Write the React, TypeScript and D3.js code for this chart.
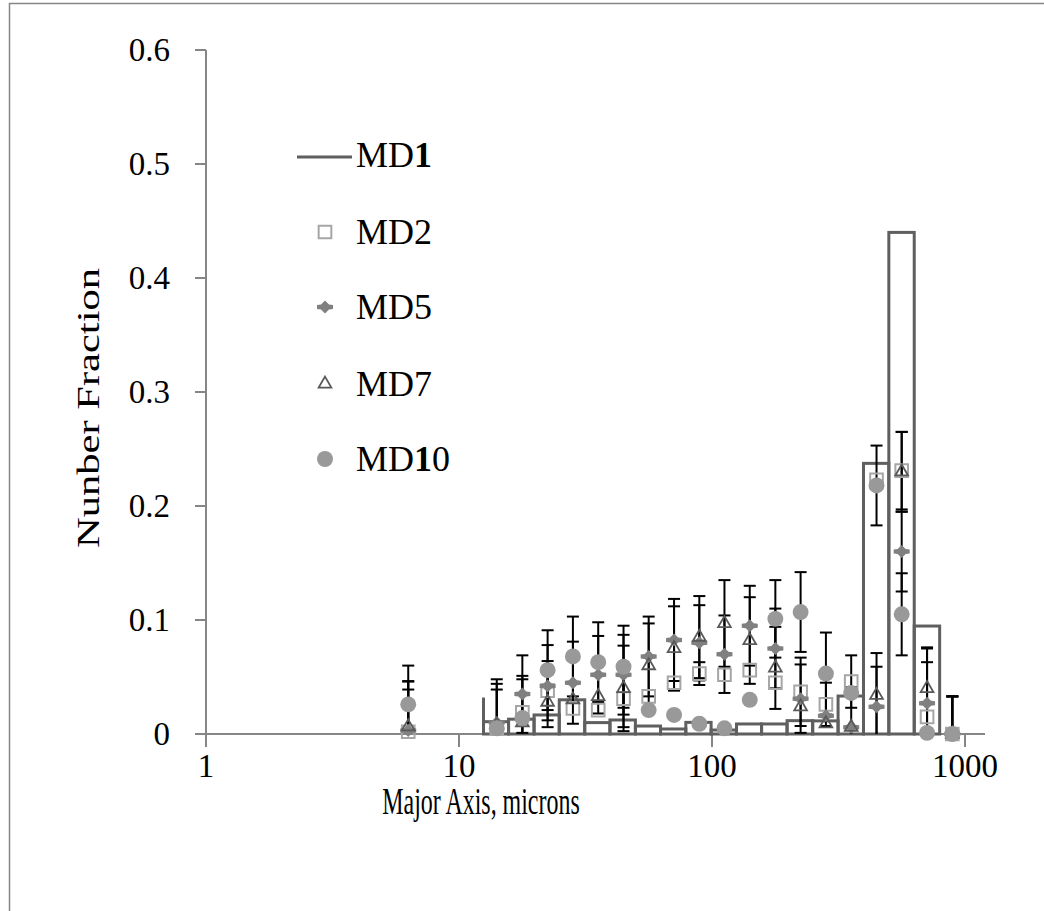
import React from 'react';
import * as d3 from 'd3';

// particle size (microns) where the markers sit
const sizes = [6.3, 14.1, 17.8, 22.4, 28.2, 35.5, 44.7, 56.2, 70.8, 89.1, 112, 141, 178, 224, 282, 355, 447, 562, 708, 891];

const md2 = [0.002, 0.005, 0.019, 0.038, 0.0225, 0.021, 0.031, 0.033, 0.045, 0.053, 0.052, 0.056, 0.045, 0.037, 0.026, 0.046, 0.223, 0.231, 0.015, 0];
const md2Err = [0.044, 0, 0.032, 0.026, 0, 0, 0.025, 0, 0, 0.01, 0, 0, 0, 0.03, 0.019, 0.023, 0, 0.034, 0.06, 0.033];

const md5 = [0.003, 0.01, 0.035, 0.042, 0.045, 0.052, 0.052, 0.068, 0.0825, 0.08, 0.07, 0.095, 0.075, 0.031, 0.016, 0.006, 0.024, 0.16, 0.027, 0];
const md5Err = [0.036, 0.038, 0.034, 0.036, 0.036, 0.034, 0.035, 0.035, 0.036, 0.033, 0.034, 0.035, 0.035, 0.03, 0, 0.035, 0.035, 0.035, 0.036, 0.033];

const md7 = [0.0064, 0.008, 0.01, 0.028, 0.03, 0.033, 0.04, 0.06, 0.075, 0.085, 0.097, 0.082, 0.058, 0.024, 0.009, 0.006, 0.034, 0.23, 0.04, 0];
const md7Err = [0.04, 0.036, 0, 0, 0, 0, 0.0375, 0.037, 0.037, 0.036, 0.038, 0.038, 0.036, 0, 0, 0, 0.037, 0.035, 0.036, 0.033];

const md10 = [0.026, 0.005, 0.014, 0.056, 0.068, 0.063, 0.059, 0.021, 0.0167, 0.009, 0.005, 0.03, 0.101, 0.107, 0.053, 0.036, 0.218, 0.105, 0.001, 0];
const md10Err = [0.034, 0.034, 0.034, 0.035, 0.035, 0.035, 0.036, 0, 0, 0, 0, 0, 0.034, 0.035, 0.036, 0, 0.035, 0.036, 0, 0.033];

// MD1 histogram
const binEdges = [12.5, 15.7, 19.8, 24.9, 31.4, 39.5, 49.8, 62.6, 78.8, 99.2, 125, 157, 198, 250, 315, 397, 500, 630, 794];
const md1 = [0.0108, 0.013, 0.0167, 0.03, 0.01, 0.0123, 0.007, 0.0044, 0.0102, 0.0035, 0.0088, 0.0088, 0.0117, 0.0115, 0.0333, 0.2374, 0.44, 0.0947];
const md1Spike = 0.032;

const yTicks = [0, 0.1, 0.2, 0.3, 0.4, 0.5, 0.6];
const xTicks = [1, 10, 100, 1000];

const x = d3.scaleLog().domain([1, 1000]).range([206, 965]);
const y = d3.scaleLinear().domain([0, 0.6]).range([734, 50]);

const serif = '"Liberation Serif", "Times New Roman", serif';

const squarePath = d3.symbol(d3.symbolSquare, 160)() as string;
const trianglePath = d3.symbol(d3.symbolTriangle, 70)() as string;
const circlePath = d3.symbol(d3.symbolCircle, 200)() as string;
const starPath = 'M0,-6.5L4,-2.5L8,-2L8,2L4,2.5L0,6.5L-4,2.5L-8,2L-8,-2L-4,-2.5Z';

const series = [
  { name: 'MD2', values: md2, errors: md2Err, path: squarePath, fill: 'none', stroke: '#a6a6a6', sw: 2 },
  { name: 'MD5', values: md5, errors: md5Err, path: starPath, fill: '#808080', stroke: 'none', sw: 0 },
  { name: 'MD7', values: md7, errors: md7Err, path: trianglePath, fill: 'none', stroke: '#595959', sw: 1.8 },
  { name: 'MD10', values: md10, errors: md10Err, path: circlePath, fill: '#999999', stroke: 'none', sw: 0 },
];

const legendY = [157, 232, 307, 384, 459];

export default function App() {
  const clampY = (v: number) => y(Math.max(0, Math.min(0.6, v)));
  return (
    <svg width={1044} height={911} style={{ position: 'absolute', left: 0, top: 0, background: '#fff' }} fontFamily={serif}>
      <rect x={9.5} y={3.5} width={1100} height={1000} fill="none" stroke="#868686" strokeWidth={1.5} />

      {/* axes */}
      <line x1={x(1)} x2={x(1)} y1={y(0.6)} y2={y(0)} stroke="#868686" strokeWidth={2} />
      <line x1={195} x2={x(1200)} y1={y(0)} y2={y(0)} stroke="#868686" strokeWidth={2} />
      {yTicks.map(t => (
        <g key={t}>
          <line x1={195} x2={x(1)} y1={y(t)} y2={y(t)} stroke="#868686" strokeWidth={2} />
          <text x={170} y={y(t) + 11} textAnchor="end" fontSize={33}>{t === 0 ? '0' : t.toFixed(1)}</text>
        </g>
      ))}
      {xTicks.map(t => (
        <g key={t}>
          <line x1={x(t)} x2={x(t)} y1={y(0)} y2={y(0) + 13} stroke="#868686" strokeWidth={2} />
          <text x={x(t)} y={777} textAnchor="middle" fontSize={33}>{t}</text>
        </g>
      ))}
      <text transform="translate(481,814) scale(0.63,1)" textAnchor="middle" fontSize={38}>Major Axis, microns</text>
      <text transform="translate(99,408) rotate(-90) scale(1.33,1)" textAnchor="middle" fontSize={32}>Nunber Fraction</text>

      {/* MD1 histogram */}
      <g fill="none" stroke="#5f5f5f" strokeWidth={3}>
        <line x1={x(binEdges[0])} x2={x(binEdges[0])} y1={y(0)} y2={y(md1Spike)} />
        {md1.map((v, i) => (
          <rect key={i} x={x(binEdges[i])} y={y(v)} width={x(binEdges[i + 1]) - x(binEdges[i])} height={y(0) - y(v)} />
        ))}
      </g>

      {/* error bars */}
      <g stroke="#000" strokeWidth={2}>
        {series.map(s => s.values.map((v, i) => {
          const e = s.errors[i];
          if (!e) return null;
          const cx = x(sizes[i]);
          const hi = clampY(v + e);
          const lo = clampY(v - e);
          return (
            <g key={s.name + i}>
              <line x1={cx} x2={cx} y1={hi} y2={lo} />
              <line x1={cx - 6} x2={cx + 6} y1={hi} y2={hi} />
              {v - e > 0 && <line x1={cx - 6} x2={cx + 6} y1={lo} y2={lo} />}
            </g>
          );
        }))}
      </g>

      {/* markers */}
      {series.map(s => (
        <g key={s.name} fill={s.fill} stroke={s.stroke} strokeWidth={s.sw}>
          {s.values.map((v, i) => (
            <path key={i} d={s.path} transform={`translate(${x(sizes[i])},${y(v)})`} />
          ))}
        </g>
      ))}

      {/* legend */}
      <line x1={297} x2={352} y1={legendY[0]} y2={legendY[0]} stroke="#5f5f5f" strokeWidth={3} />
      <text x={356} y={legendY[0] + 10} fontSize={36}>MD<tspan fontWeight="bold">1</tspan></text>
      {series.map((s, i) => (
        <g key={s.name}>
          <path d={s.path} transform={`translate(325,${legendY[i + 1]})`} fill={s.fill} stroke={s.stroke} strokeWidth={s.sw} />
          <text x={356} y={legendY[i + 1] + 12} fontSize={36}>
            {s.name === 'MD10' ? <>MD<tspan fontWeight="bold">1</tspan>0</> : s.name}
          </text>
        </g>
      ))}
    </svg>
  );
}
